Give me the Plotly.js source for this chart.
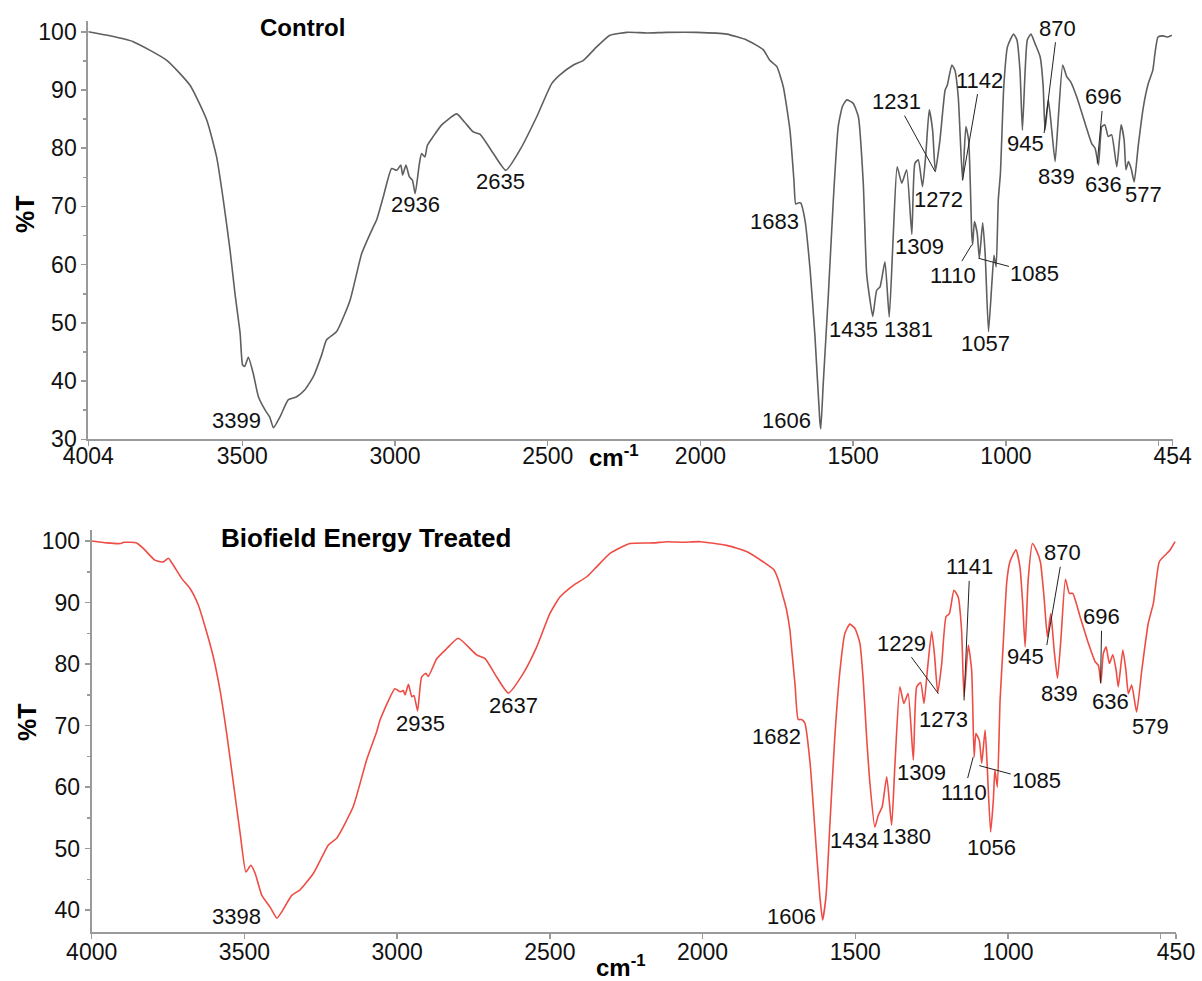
<!DOCTYPE html>
<html>
<head>
<meta charset="utf-8">
<script src="https://cdn.plot.ly/plotly-3.0.1.min.js"></script>
<style>
html,body{margin:0;padding:0;background:#fff;}
#chart{width:1202px;height:981px;}
</style>
</head>
<body>
<div id="chart"></div>
<script>
// ---------- Control spectrum (wavenumber cm-1, %T) ----------
const wnControl = [4004,3933,3857,3747,3671,3616,3584,3562,3540,3524,3507,3499,3492,3480,3464,3447,3425,3410,3398,3376,3349,3322,3295,3267,3240,3224,3191,3147,3109,3071,3060,3038,3011,2994,2981,2975,2964,2953,2943,2934,2920,2913,2902,2894,2875,2847,2798,2771,2744,2722,2678,2637,2591,2536,2487,2460,2416,2383,2340,2296,2241,2176,2110,2012,1914,1849,1794,1773,1750,1729,1707,1694,1688,1680,1672,1658,1641,1625,1609,1606,1598,1581,1565,1549,1535,1521,1500,1483,1467,1456,1445,1436,1423,1412,1396,1382,1369,1356,1341,1325,1308,1298,1287,1273,1262,1251,1240,1231,1216,1199,1192,1177,1167,1156,1142,1131,1122,1112,1109,1103,1094,1087,1076,1068,1057,1046,1039,1032,1025,1018,1007,995,975,964,954,946,937,930,918,905,888,878,872,861,850,839,829,814,801,788,768,741,719,708,697,686,676,665,654,637,623,613,607,599,590,580,567,550,534,519,512,502,485,470,457];
const tControl = [100,99.3,98.3,95.1,90.8,84.8,78.5,71.1,62.5,55.1,48.2,42.8,42.5,44.1,41.3,37.3,35.0,33.8,32.0,33.9,36.8,37.3,38.5,40.8,44.5,47.1,48.5,53.9,61.9,66.5,67.7,71.7,76.5,76.2,77.1,75.4,77.1,75.1,74.5,72.2,77.4,79.1,78.5,80.5,82.0,84.0,85.9,84.4,82.8,82.4,79.1,76.2,79.7,85.4,91.1,92.6,94.3,95.1,97.4,99.4,99.9,99.8,99.9,99.9,99.6,98.6,96.9,95.1,94.0,90.6,83.1,74.5,70.4,70.6,70.6,67.7,59.1,47.6,33.0,31.8,39.6,55.1,71.1,83.7,87.2,88.3,87.7,85.4,74.0,58.5,53.9,51.1,55.6,56.2,60.5,51.0,64.8,76.8,74.0,76.3,65.2,77.4,78.0,73.4,79.1,86.6,83.1,76.0,81.4,90.0,90.8,94.3,93.4,88.8,74.5,83.7,81.4,65.5,63.4,67.4,65.4,61.1,67.2,61.9,48.5,56.8,61.6,59.6,71.1,75.7,90.6,97.4,99.6,98.6,93.4,83.1,93.4,98.6,99.6,98.0,95.7,90.6,83.1,88.3,83.1,77.7,84.8,94.3,92.3,91.4,88.8,84.3,80.8,80.0,77.1,83.7,84.0,82.0,82.3,76.8,84.0,81.4,76.3,77.7,76.5,74.2,80.3,87.1,91.1,93.4,96.3,99.1,99.3,99.1,99.4];

// ---------- Biofield Energy Treated spectrum ----------
const wnTreated = [4000,3951,3907,3895,3853,3831,3793,3766,3749,3733,3705,3678,3651,3629,3602,3580,3558,3536,3514,3495,3479,3465,3443,3416,3394,3378,3345,3318,3274,3225,3198,3144,3100,3067,3056,3007,2991,2980,2974,2963,2952,2945,2933,2920,2906,2898,2870,2838,2800,2740,2712,2674,2636,2587,2543,2500,2467,2423,2379,2347,2303,2238,2161,2117,2063,2008,1921,1856,1801,1766,1752,1736,1725,1714,1708,1697,1687,1676,1665,1648,1632,1616,1607,1596,1583,1567,1550,1534,1518,1501,1485,1474,1463,1452,1436,1425,1412,1397,1381,1370,1354,1341,1327,1310,1299,1286,1275,1264,1250,1241,1230,1217,1203,1192,1177,1163,1152,1144,1130,1119,1111,1105,1094,1086,1075,1068,1057,1048,1043,1035,1026,1016,1004,994,974,961,952,944,934,920,907,894,882,871,860,849,838,827,812,799,788,764,737,715,704,696,688,679,668,657,646,639,624,614,606,595,579,562,541,524,505,486,470,453];
const tTreated = [100,99.7,99.6,99.8,99.7,98.8,96.9,96.6,97.2,96.1,93.9,92.3,89.6,86.1,81.2,75.8,68.7,60.6,52.5,46.2,47.3,46.0,42.4,40.5,38.7,39.7,42.4,43.3,46.0,50.6,51.7,56.8,64.4,69.0,70.9,76.0,75.5,75.7,75.0,76.7,74.7,74.9,72.4,77.9,78.5,78.0,80.9,82.5,84.2,81.5,80.9,77.9,75.3,78.5,82.8,88.2,90.9,92.8,94.2,95.8,98.0,99.6,99.7,99.9,99.8,99.9,99.3,98.3,96.6,95.3,93.7,90.9,88.8,85.5,82.3,76.5,71.0,71.0,70.4,63.9,53.0,42.2,38.4,42.2,54.1,68.2,79.0,85.0,86.5,85.8,83.4,77.4,68.2,60.6,53.5,55.4,56.8,61.7,53.8,63.9,76.3,73.6,75.2,64.4,76.3,77.0,73.6,79.0,85.3,81.7,75.3,80.1,87.7,88.2,92.0,90.9,85.5,74.7,83.1,79.0,64.9,68.7,67.6,63.9,69.3,63.3,52.7,57.9,62.8,60.0,74.1,83.0,93.4,96.6,98.6,95.8,89.9,82.8,93.7,99.6,98.5,96.6,90.9,84.4,88.2,82.3,77.7,83.9,93.8,91.5,91.5,87.7,83.4,80.4,79.8,76.9,81.7,82.8,80.1,81.5,79.0,76.3,82.3,79.0,75.2,76.6,72.2,79.0,86.6,89.9,96.6,97.7,98.5,99.9];

// ---------- Peak labels: [text, label wavenumber, label %T] ----------
const controlLabels = [["3399",3518,33.2],["2936",2934,70.4],["2635",2656,74.2],["1683",1756,67.4],["1606",1718,33.3],["1435",1500,48.8],["1381",1320,48.8],["1309",1282,63.2],["1272",1221,71.2],["1057",1068,46.5],["945",937,80.8],["839",836,75.1],["636",681,73.7],["577",550,72.0]];
const treatedLabels = [["3398",3525,38.9],["2935",2925,70.4],["2637",2620,73.2],["1682",1757,68.2],["1606",1708,38.9],["1434",1501,51.4],["1380",1332,52.0],["1309",1283,62.3],["1273",1212,71.0],["1056",1053,50.2],["945",942,81.2],["839",833,75.3],["636",664,73.9],["579",535,69.9]];
// ---------- Labels with leader lines: [text, label wn, label %T, peak wn, peak %T] ----------
const controlLeaders = [["1231",1357,88.0,1232,76.0],["1142",1085,91.7,1142,74.5],["1110",1172,58.2,1112,63.4],["1085",905,58.5,1090,61.1],["870",832,100.6,875,82.6],["696",681,88.8,701,77.4]];
const treatedLeaders = [["1229",1350,83.4,1228,75.2],["1141",1125,95.8,1144,74.1],["1110",1144,59.2,1114,64.9],["1085",906,61.0,1094,63.5],["870",821,98.1,873,83.1],["696",693,87.7,697,76.9]];

// ---------- Axis ticks ----------
const xTickTop = [4004,3500,3000,2500,2000,1500,1000,454];
const xTextTop = ["4004","3500","3000","2500","2000","1500","1000","454"];
const xTickBot = [4000,3500,3000,2500,2000,1500,1000,450];
const xTextBot = ["4000","3500","3000","2500","2000","1500","1000","450"];
const xUnlabeled = [500];
const yTickTop = [30,40,50,60,70,80,90,100];
const yTickBot = [40,50,60,70,80,90,100];

const FONT = "Liberation Sans, Arial, sans-serif";
const W = 1202, H = 981;

const traces = [
  {x: wnControl, y: tControl, xaxis:'x', yaxis:'y', type:'scatter', mode:'lines',
   line:{color:'#5f5f5f', width:1.6, shape:'spline', smoothing:0.5}, hoverinfo:'skip'},
  {x: wnTreated, y: tTreated, xaxis:'x2', yaxis:'y2', type:'scatter', mode:'lines',
   line:{color:'#ee4d45', width:1.6, shape:'spline', smoothing:0.5}, hoverinfo:'skip'}
];

const annotations = [];
function addLabels(list, xr, yr){
  list.forEach(l => annotations.push({xref:xr, yref:yr, x:l[1], y:l[2], text:l[0], showarrow:false,
    xanchor:'center', yanchor:'middle', font:{family:FONT, size:22, color:'#111'}}));
}
function addLeaders(list, xr, yr){
  list.forEach(l => annotations.push({xref:xr, yref:yr, axref:xr, ayref:yr,
    x:l[3], y:l[4], ax:l[1], ay:l[2], text:l[0], showarrow:true, arrowhead:0,
    arrowwidth:1, arrowcolor:'#222', standoff:0, startstandoff:0,
    font:{family:FONT, size:22, color:'#111'}}));
}
addLabels(controlLabels,'x','y');
addLabels(treatedLabels,'x2','y2');
addLeaders(controlLeaders,'x','y');
addLeaders(treatedLeaders,'x2','y2');

// titles and axis titles (paper coords from pixel positions)
function px(x){return x/W;}
function py(y){return 1 - y/H;}
function paperText(x, y, text, size, angle){
  annotations.push({xref:'paper', yref:'paper', x:px(x), y:py(y), text:text, showarrow:false,
    xanchor:'center', yanchor:'middle', textangle:angle||0, font:{family:FONT, size:size, color:'#000'}});
}
paperText(302, 28, '<b>Control</b>', 24);
paperText(366, 538, '<b>Biofield Energy Treated</b>', 26);
paperText(614, 456, '<b>cm<sup>-1</sup></b>', 24);
paperText(621, 966, '<b>cm<sup>-1</sup></b>', 24);
paperText(25, 214, '<b>%T</b>', 25, -90);
paperText(27, 722, '<b>%T</b>', 25, -90);

const axCommon = {showgrid:false, zeroline:false, showline:true, linecolor:'#9a9a9a', linewidth:2,
  ticks:'outside', ticklen:5, tickcolor:'#9a9a9a', tickwidth:1.5,
  tickfont:{family:FONT, size:23, color:'#111'}, automargin:false, fixedrange:true};
const xMinor = {tickmode:'array', tickvals:xUnlabeled, ticks:'outside', ticklen:5, tickcolor:'#9a9a9a', tickwidth:1.5};
const yMinor = {dtick:5, ticklen:3, ticks:'outside', tickcolor:'#9a9a9a'};

const layout = {
  width:W, height:H, margin:{l:0,r:0,t:0,b:0}, paper_bgcolor:'#fff', plot_bgcolor:'#fff',
  showlegend:false,
  xaxis: Object.assign({}, axCommon, {domain:[88.3/W, 1172.7/W], range:[4004,454], anchor:'y',
    tickmode:'array', tickvals:xTickTop, ticktext:xTextTop, minor:xMinor, ticklabelstandoff:-10}),
  yaxis: Object.assign({}, axCommon, {domain:[py(439.3), py(20.7)], range:[30,101.9], anchor:'x',
    tickmode:'array', tickvals:yTickTop, minor:yMinor}),
  xaxis2: Object.assign({}, axCommon, {domain:[91.7/W, 1176/W], range:[4000,450], anchor:'y2',
    tickmode:'array', tickvals:xTickBot, ticktext:xTextBot, minor:xMinor, ticklabelstandoff:-6}),
  yaxis2: Object.assign({}, axCommon, {domain:[py(931.7), py(530)], range:[36.5,101.8], anchor:'x2',
    tickmode:'array', tickvals:yTickBot, minor:yMinor}),
  annotations: annotations
};

Plotly.newPlot('chart', traces, layout, {staticPlot:true, displayModeBar:false});
</script>
</body>
</html>
